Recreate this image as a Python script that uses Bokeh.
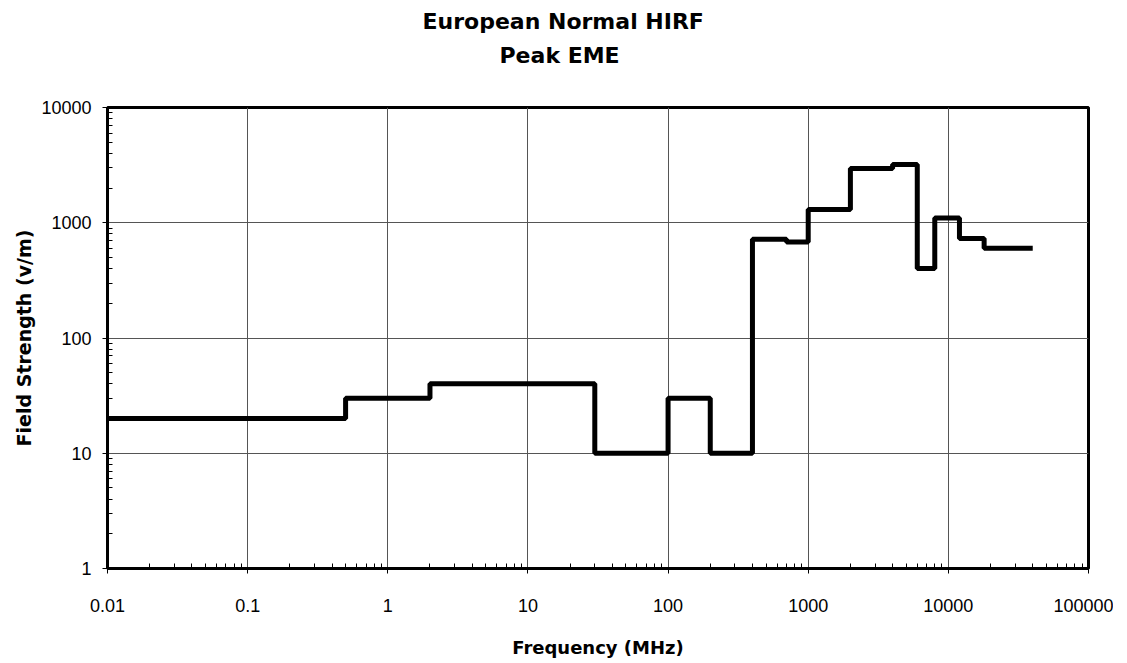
from bokeh.plotting import figure
from bokeh.models import Range1d, FixedTicker, Title
from bokeh.embed import file_html
from bokeh.resources import INLINE

# ---- data ----
freq_edges_mhz = [0.01, 0.5, 2, 30, 100, 200, 400, 700, 1000, 2000, 4000, 6000, 8000, 12000, 18000, 40000]
field_strength_vm = [20, 30, 40, 10, 30, 10, 720, 680, 1300, 2950, 3200, 400, 1100, 730, 600]

x_ticks = [0.01, 0.1, 1, 10, 100, 1000, 10000, 100000]
x_tick_labels = ["0.01", "0.1", "1", "10", "100", "1000", "10000", "100000"]
y_ticks = [1, 10, 100, 1000, 10000]
y_tick_labels = ["1", "10", "100", "1000", "10000"]

title_line1 = "European Normal HIRF"
title_line2 = "Peak EME"
x_label = "Frequency (MHz)"
y_label = "Field Strength (v/m)"

# ---- figure ----
FW, FH = 981, 461
p = figure(
    x_axis_type="log", y_axis_type="log",
    x_range=Range1d(x_ticks[0], x_ticks[-1]),
    y_range=Range1d(y_ticks[0], y_ticks[-1]),
    frame_width=FW, frame_height=FH,
    min_border_left=107, min_border_right=25,
    min_border_top=0, min_border_bottom=90,
    output_backend="svg", toolbar_location=None,
    background_fill_color="white", border_fill_color="white",
)

bold_font = "DejaVu Sans"
tick_font = "Liberation Sans"

# spacer (closest to frame), then line 2, then line 1 (outermost)
p.add_layout(Title(text=" ", text_font_size="1px", standoff=37), "above")
p.add_layout(Title(text=title_line2, align="left", offset=392, text_font=bold_font,
                   text_font_size="22px", text_font_style="bold",
                   text_color="black", standoff=0), "above")
p.add_layout(Title(text=title_line1, align="left", offset=315, text_font=bold_font,
                   text_font_size="22px", text_font_style="bold",
                   text_color="black", standoff=13), "above")

x_minor = [m * d for d in x_ticks[:-1] for m in range(2, 10)]
y_minor = [m * d for d in y_ticks[:-1] for m in range(2, 10)]
xt = FixedTicker(ticks=x_ticks, minor_ticks=x_minor)
yt = FixedTicker(ticks=y_ticks, minor_ticks=y_minor)
p.xaxis.ticker = xt
p.yaxis.ticker = yt
p.xgrid.ticker = xt
p.ygrid.ticker = yt
p.xaxis.major_label_overrides = {t: l for t, l in zip(x_ticks, x_tick_labels)}
p.yaxis.major_label_overrides = {t: l for t, l in zip(y_ticks, y_tick_labels)}

for ax in (p.xaxis[0], p.yaxis[0]):
    ax.axis_line_color = "black"
    ax.axis_line_width = 3
    ax.major_tick_line_color = "black"
    ax.major_tick_line_width = 1
    ax.major_tick_out = 5
    ax.major_tick_in = 0
    ax.minor_tick_line_color = "black"
    ax.minor_tick_line_width = 1
    ax.minor_tick_in = 5
    ax.minor_tick_out = 0
    ax.major_label_text_font = tick_font
    ax.major_label_text_font_size = "18px"
    ax.major_label_text_color = "black"
    ax.axis_label_text_font = bold_font
    ax.axis_label_text_font_style = "bold"
    ax.axis_label_text_color = "black"

p.xaxis.axis_label = x_label
p.yaxis.axis_label = y_label
p.xaxis.axis_label_text_font_size = "18px"
p.yaxis.axis_label_text_font_size = "19px"
p.xaxis.major_label_standoff = 25
p.xaxis.axis_label_standoff = 22
p.yaxis.major_label_standoff = 11
p.yaxis.axis_label_standoff = 3

p.grid.grid_line_color = "#555555"
p.grid.grid_line_width = 1
p.outline_line_color = "black"
p.outline_line_width = 3

p.step(x=freq_edges_mhz, y=field_strength_vm + [field_strength_vm[-1]],
       mode="after", line_color="black", line_width=5)

open("out.html", "w").write(file_html(p, INLINE))
